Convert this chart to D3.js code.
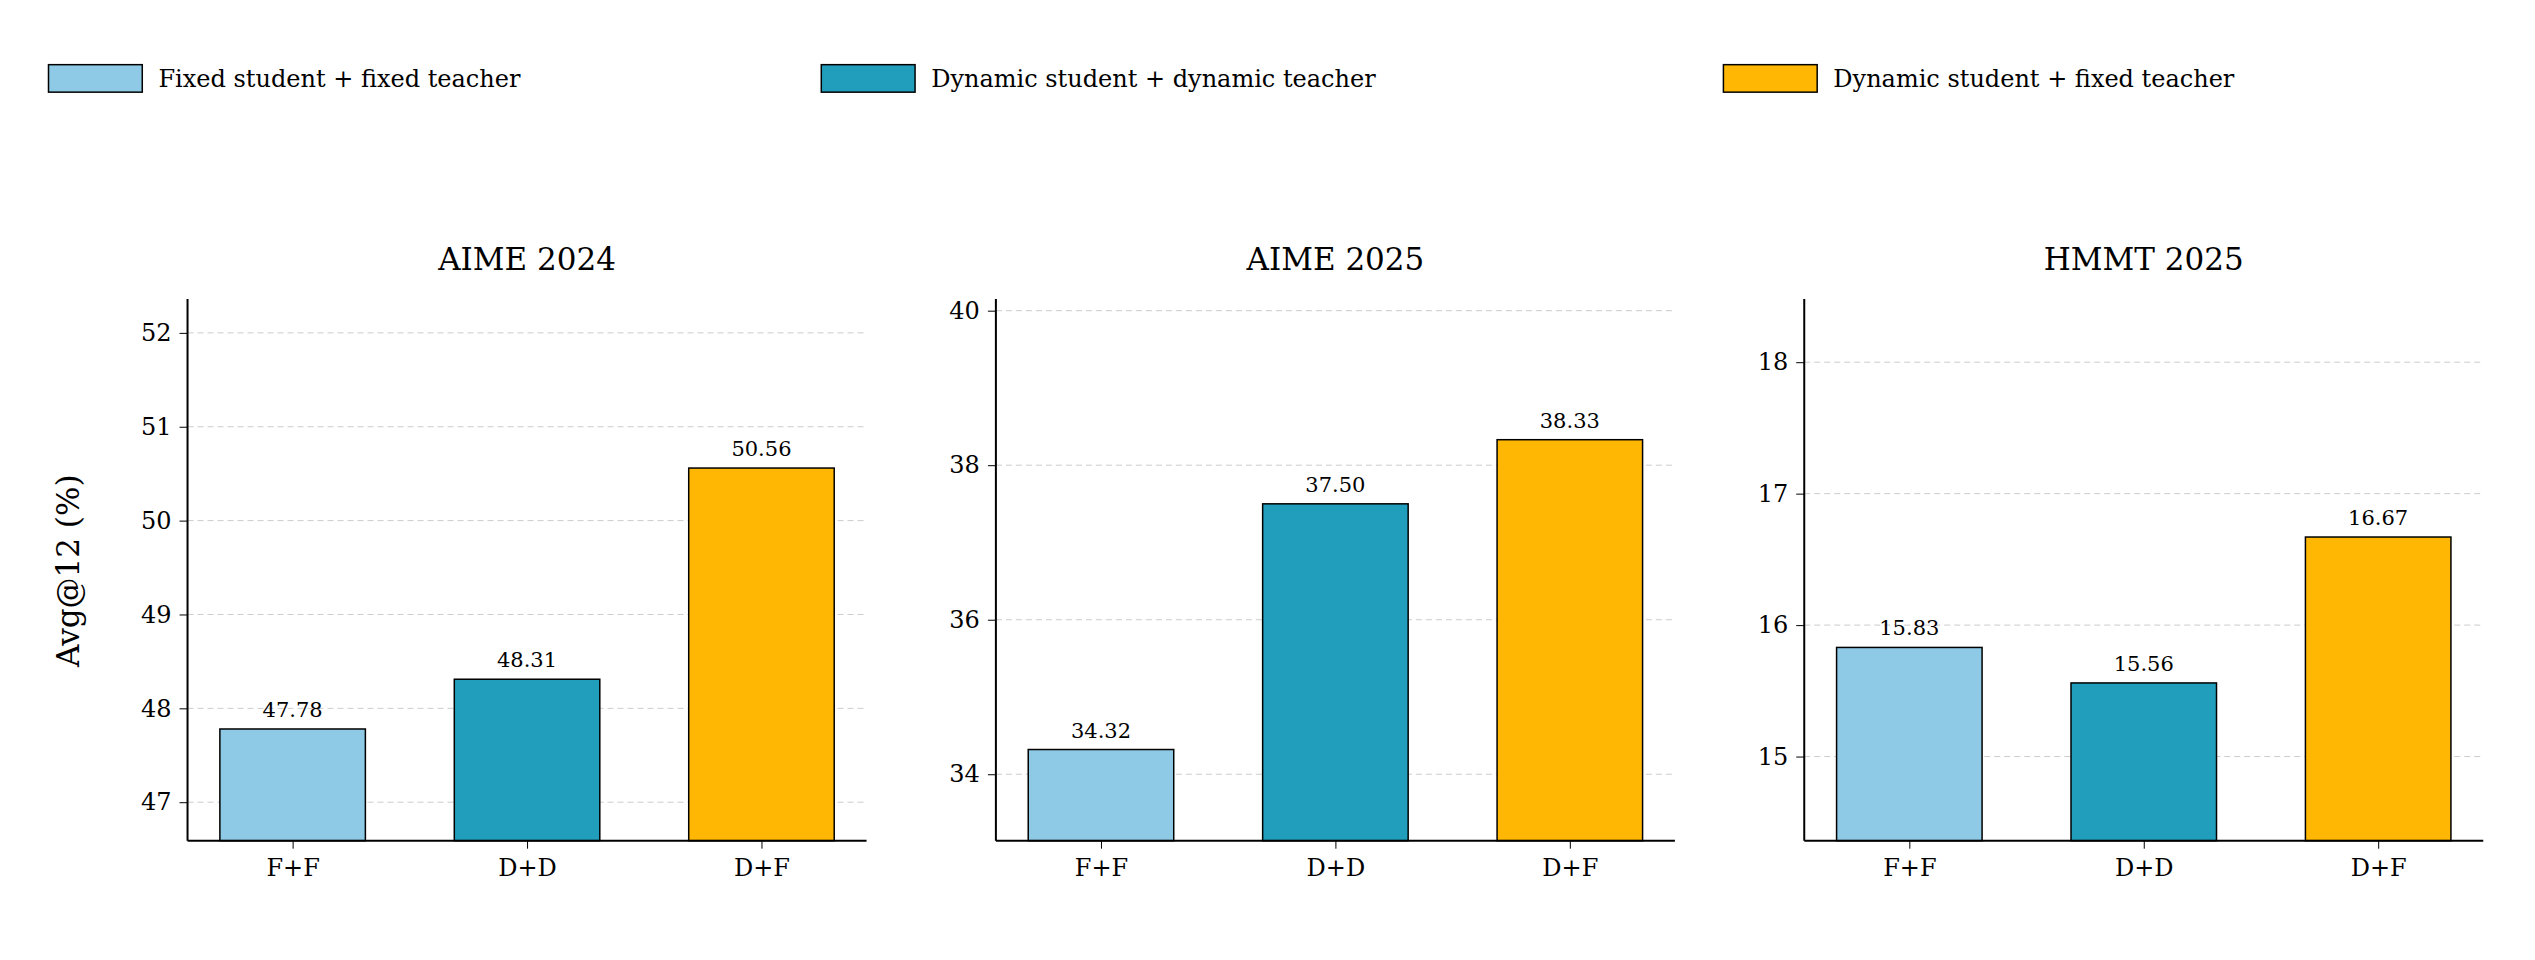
<!DOCTYPE html>
<html><head><meta charset="utf-8">
<script src="https://cdn.jsdelivr.net/npm/d3@7"></script>
<style>body{margin:0;background:#fff}</style></head>
<body><svg id="c" width="2535" height="960"></svg>
<script>
const categories = ["F+F","D+D","D+F"];
const seriesNames = ["Fixed student + fixed teacher","Dynamic student + dynamic teacher","Dynamic student + fixed teacher"];
const colors = ["#8ecae6","#219ebc","#ffb703"];
const titles = ["AIME 2024","AIME 2025","HMMT 2025"];
const aime2024 = [47.78, 48.31, 50.56];
const aime2025 = [34.32, 37.50, 38.33];
const hmmt2025 = [15.83, 15.56, 16.67];
const domains = [[46.59,52.36],[33.14,40.15],[14.36,18.48]];
const ticks = [[47,48,49,50,51,52],[34,36,38,40],[15,16,17,18]];
const panelsData = [aime2024, aime2025, hmmt2025];

const S = 2535/1568;
const svg = d3.select("#c");
const font = "DejaVu Serif, serif";
const panelX = [116, 616, 1116].map(v=>v*S);
const W = 420*S, topY = 185*S, botY = 520*S;

seriesNames.forEach((n,i)=>{
  const lx = [30, 508, 1066][i]*S;
  svg.append("rect").attr("x",lx).attr("y",40*S).attr("width",58*S).attr("height",17*S)
    .attr("fill",colors[i]).attr("stroke","#000").attr("stroke-width",1.5);
  svg.append("text").attr("x",lx+68*S).attr("y",48.5*S).attr("dy","0.35em")
    .attr("font-family",font).attr("font-size",24).text(n);
});

panelsData.forEach((vals,p)=>{
  const g = svg.append("g").attr("transform",`translate(${panelX[p]},0)`);
  const x = d3.scalePoint().domain(categories).range([65*S,355*S]);
  const y = d3.scaleLinear().domain(domains[p]).range([botY,topY]);
  const bw = 90*S;
  g.selectAll(".grid").data(ticks[p]).enter().append("line")
    .attr("x1",0).attr("x2",W).attr("y1",d=>y(d)).attr("y2",d=>y(d))
    .attr("stroke","#ccc").attr("stroke-dasharray","6,4").attr("stroke-width",1);
  g.selectAll(".bar").data(vals).enter().append("rect")
    .attr("x",(d,i)=>x(categories[i])-bw/2).attr("width",bw)
    .attr("y",d=>y(d)).attr("height",d=>botY-y(d))
    .attr("fill",(d,i)=>colors[i]).attr("stroke","#000").attr("stroke-width",1.5);
  g.selectAll(".lab").data(vals).enter().append("text")
    .attr("x",(d,i)=>x(categories[i])).attr("y",d=>y(d)-12)
    .attr("text-anchor","middle").attr("font-family",font).attr("font-size",21)
    .text(d=>d.toFixed(2));
  const ya = g.append("g").call(d3.axisLeft(y).tickValues(ticks[p]).tickFormat(d3.format("d")).tickSize(8).tickPadding(8));
  ya.selectAll("text").attr("font-family",font).attr("font-size",24).attr("fill","#000");
  ya.select(".domain").attr("d",`M0,${botY}V${topY}`).attr("stroke-width",2);
  const xa = g.append("g").attr("transform",`translate(0,${botY})`)
    .call(d3.axisBottom(x).tickSize(8).tickPadding(10).tickSizeOuter(0));
  xa.selectAll("text").attr("font-family",font).attr("font-size",24).attr("fill","#000");
  xa.select(".domain").attr("d",`M0,0H${W}`).attr("stroke-width",2);
  g.append("text").attr("x",W/2).attr("y",160*S).attr("dy","0.35em").attr("text-anchor","middle")
    .attr("font-family",font).attr("font-size",31).text(titles[p]);
});
svg.append("text").attr("transform",`translate(${42*S},${353*S}) rotate(-90)`)
  .attr("text-anchor","middle").attr("dy","0.35em").attr("font-family",font).attr("font-size",31)
  .text("Avg@12 (%)");
</script></body></html>
